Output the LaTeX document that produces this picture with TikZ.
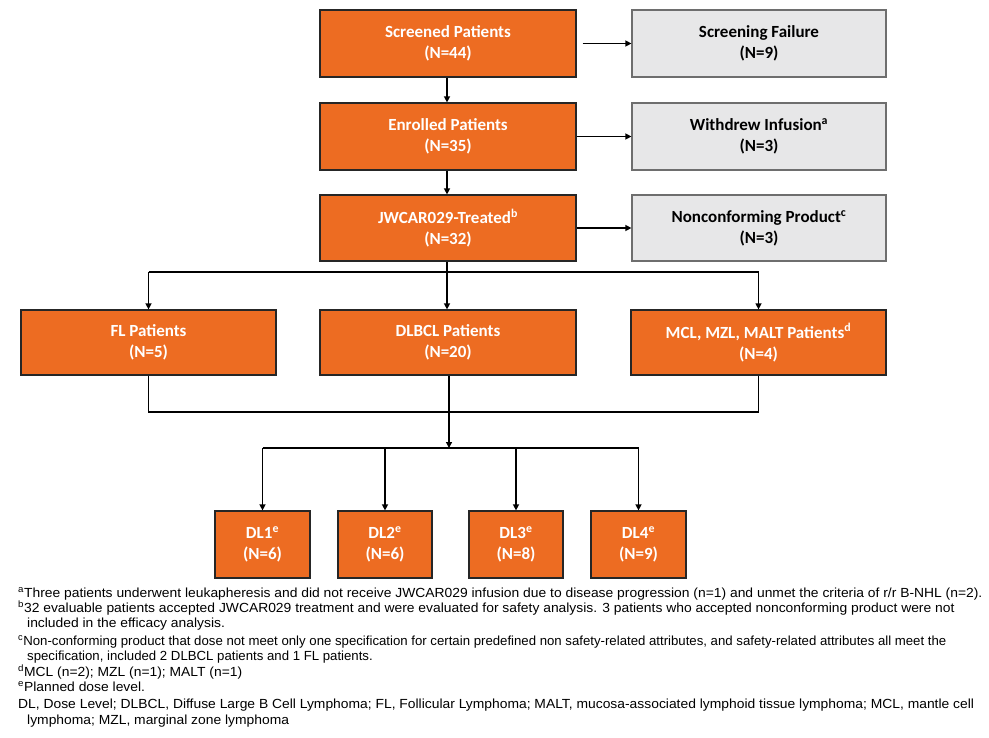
\documentclass[tikz,border=0pt]{standalone}
\usepackage{fontspec}
\setmainfont{Carlito}
\newfontfamily\notefont[FakeStretch=1.05]{Liberation Sans}
\newfontfamily\notefontb[FakeStretch=1.0]{Liberation Sans}
\usetikzlibrary{arrows.meta}
\definecolor{orng}{RGB}{237,108,34}
\definecolor{gboxfill}{RGB}{231,231,232}
\definecolor{gboxline}{RGB}{110,110,110}
\begin{document}
\begin{tikzpicture}[x=1pt,y=-1pt,
  obox/.style={draw=black!85, line width=1.2pt, fill=orng, text=white,
    font=\bfseries\fontsize{17}{21}\selectfont, align=center, inner sep=0pt},
  gbx/.style={draw=gboxline, line width=1.2pt, fill=gboxfill, text=black,
    font=\bfseries\fontsize{17}{21}\selectfont, align=center, inner sep=0pt},
  arr/.style={-{Triangle[length=6pt,width=6pt]}, line width=1.3pt},
  ln/.style={line width=1.3pt},
  note/.style={anchor=base west, inner sep=0pt, font=\notefont\fontsize{13.2}{15}\selectfont},
  noteb/.style={anchor=base west, inner sep=0pt, font=\notefontb\fontsize{13.2}{15}\selectfont}
]
\useasboundingbox (0,0) rectangle (989,738);
% top column
\node[obox, minimum width=256pt, minimum height=67pt] (scr) at (448,43.5) {Screened Patients\\(N=44)};
\node[gbx, minimum width=254pt, minimum height=67pt] (fail) at (759,43.5) {Screening Failure\\(N=9)};
\node[obox, minimum width=256pt, minimum height=67pt] (enr) at (448,136.5) {Enrolled Patients\\(N=35)};
\node[gbx, minimum width=254pt, minimum height=67pt] (wd) at (759,136.5) {Withdrew Infusion\textsuperscript{a}\\(N=3)};
\node[obox, minimum width=256pt, minimum height=66pt] (jw) at (448,228) {JWCAR029-Treated\textsuperscript{b}\\(N=32)};
\node[gbx, minimum width=254pt, minimum height=66pt] (nc) at (759,228) {Nonconforming Product\textsuperscript{c}\\(N=3)};
% patient row
\node[obox, minimum width=255pt, minimum height=65pt] (fl) at (148.5,342.5) {FL Patients\\(N=5)};
\node[obox, minimum width=256pt, minimum height=65pt] (dlb) at (448,342.5) {DLBCL Patients\\(N=20)};
\node[obox, minimum width=255pt, minimum height=65pt] (mcl) at (758.5,342.5) {MCL, MZL, MALT Patients\textsuperscript{d}\\(N=4)};
% dose levels
\node[obox, minimum width=95pt, minimum height=67pt] (d1) at (262.5,544.5) {DL1\textsuperscript{e}\\(N=6)};
\node[obox, minimum width=94pt, minimum height=67pt] (d2) at (385,544.5) {DL2\textsuperscript{e}\\(N=6)};
\node[obox, minimum width=94pt, minimum height=67pt] (d3) at (516,544.5) {DL3\textsuperscript{e}\\(N=8)};
\node[obox, minimum width=95pt, minimum height=67pt] (d4) at (638.5,544.5) {DL4\textsuperscript{e}\\(N=9)};
% side arrows
\draw[arr] ([xshift=6pt]scr.east) -- (fail.west);
\draw[arr] (enr.east) -- (wd.west);
\draw[arr] (jw.east) -- (nc.west);
% vertical arrows
\draw[arr] ([xshift=-1pt]scr.south) -- ([xshift=-1pt]enr.north);
\draw[arr] ([xshift=-1pt]enr.south) -- ([xshift=-1pt]jw.north);
% branch
\coordinate (br) at (447,272);
\draw[ln] ([xshift=-1pt]jw.south) -- (br);
\draw[ln] (fl.north |- br) -- (mcl.north |- br);
\draw[arr] (fl.north |- br) -- (fl.north);
\draw[arr] (br) -- (dlb.north -| br);
\draw[arr] (mcl.north |- br) -- (mcl.north);
% merge
\coordinate (mg) at (449,412);
\draw[ln] (fl.south) -- (fl.south |- mg) -- (mcl.south |- mg) -- (mcl.south);
\coordinate (dj) at (449,448);
\draw[arr] (dlb.south -| dj) -- (dj);
\draw[ln] (d1.north |- dj) -- (d4.north |- dj);
\draw[arr] (d1.north |- dj) -- (d1.north);
\draw[arr] (d2.north |- dj) -- (d2.north);
\draw[arr] (d3.north |- dj) -- (d3.north);
\draw[arr] (d4.north |- dj) -- (d4.north);
% footnotes
\node[note] (n1) at (18,597) {\textsuperscript{a}Three patients underwent leukapheresis and did not receive JWCAR029 infusion due to disease progression (n=1) and unmet the criteria of r/r B-NHL (n=2).};
\node[note] (n2) at (18,612) {\textsuperscript{b}32 evaluable patients accepted JWCAR029 treatment and were evaluated for safety analysis. 3 patients who accepted nonconforming product were not};
\node[note] (n3) at (27,627) {included in the efficacy analysis.};
\node[noteb] (n4) at (18,645) {\textsuperscript{c}Non-conforming product that dose not meet only one specification for certain predefined non safety-related attributes, and safety-related attributes all meet the};
\node[noteb] (n5) at (27,660) {specification, included 2 DLBCL patients and 1 FL patients.};
\node[note] (n6) at (18,676) {\textsuperscript{d}MCL (n=2); MZL (n=1); MALT (n=1)};
\node[note] (n7) at (18,691) {\textsuperscript{e}Planned dose level.};
\node[note] (n8) at (18,708) {DL, Dose Level; DLBCL, Diffuse Large B Cell Lymphoma; FL, Follicular Lymphoma; MALT, mucosa-associated lymphoid tissue lymphoma; MCL, mantle cell};
\node[note] (n9) at (27,724) {lymphoma; MZL, marginal zone lymphoma};
\end{tikzpicture}
\end{document}
